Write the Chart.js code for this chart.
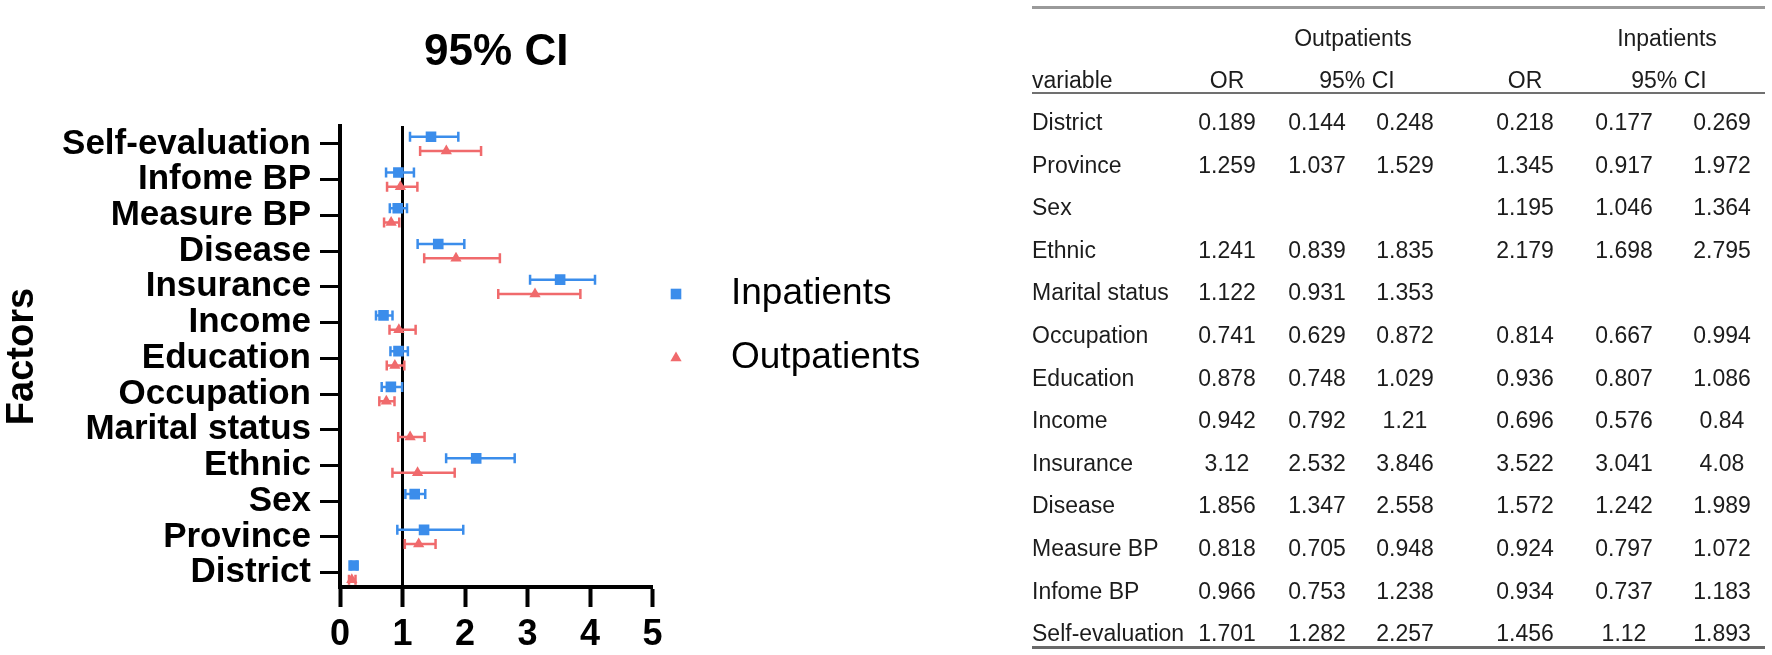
<!DOCTYPE html>
<html>
<head>
<meta charset="utf-8">
<script src="https://cdn.jsdelivr.net/npm/chart.js@4.4.1/dist/chart.umd.min.js"></script>
<style>
  html, body { margin: 0; padding: 0; background: #fff; }
  body { width: 1772px; height: 655px; position: relative; overflow: hidden; font-family: 'Liberation Sans', Arial, sans-serif; }
  #plotBox { position: absolute; left: 0; top: 0; width: 920px; height: 655px; }
  #orTable { position: absolute; left: 0; top: 0; width: 1772px; height: 655px; }
  .cell { position: absolute; font-size: 23px; line-height: 28px; height: 28px; color: #1c1c1c; white-space: nowrap; }
  .rule { position: absolute; left: 1032px; width: 733px; }
</style>
</head>
<body>
<div id="plotBox"><canvas id="forest"></canvas></div>
<div id="orTable"></div>
<script>
// rows from bottom (District) to top (Self-evaluation)
const factors = ['District', 'Province', 'Sex', 'Ethnic', 'Marital status', 'Occupation', 'Education',
    'Income', 'Insurance', 'Disease', 'Measure BP', 'Infome BP', 'Self-evaluation'];

const outOR   = [0.189, 1.259, null, 1.241, 1.122, 0.741, 0.878, 0.942, 3.12, 1.856, 0.818, 0.966, 1.701];
const outLow  = [0.144, 1.037, null, 0.839, 0.931, 0.629, 0.748, 0.792, 2.532, 1.347, 0.705, 0.753, 1.282];
const outHigh = [0.248, 1.529, null, 1.835, 1.353, 0.872, 1.029, 1.21, 3.846, 2.558, 0.948, 1.238, 2.257];

const inOR    = [0.218, 1.345, 1.195, 2.179, null, 0.814, 0.936, 0.696, 3.522, 1.572, 0.924, 0.934, 1.456];
const inLow   = [0.177, 0.917, 1.046, 1.698, null, 0.667, 0.807, 0.576, 3.041, 1.242, 0.797, 0.737, 1.12];
const inHigh  = [0.269, 1.972, 1.364, 2.795, null, 0.994, 1.086, 0.84, 4.08, 1.989, 1.072, 1.183, 1.893];

const xTicks = [0, 1, 2, 3, 4, 5];
const refOR = 1;

const FONT = "'Liberation Sans', Arial, sans-serif";
const BLUE = '#3b8deb';
const RED = '#f06a6c';

function buildPoints(or, lo, hi, shift) {
    const pts = [];
    factors.forEach((f, i) => {
        if (or[i] == null) return;
        pts.push({ x: or[i], y: i + shift, lo: lo[i], hi: hi[i] });
    });
    return pts;
}

// horizontal CI whiskers with end caps
const errorBars = {
    id: 'errorBars',
    beforeDatasetsDraw(chart) {
        const { ctx, scales: { x, y } } = chart;
        chart.data.datasets.forEach(ds => {
            ctx.save();
            ctx.strokeStyle = ds.borderColor;
            ctx.lineWidth = 2.5;
            ds.data.forEach(p => {
                const yp = y.getPixelForValue(p.y);
                const x0 = x.getPixelForValue(p.lo);
                const x1 = x.getPixelForValue(p.hi);
                ctx.beginPath();
                ctx.moveTo(x0, yp); ctx.lineTo(x1, yp);
                ctx.moveTo(x0, yp - 5); ctx.lineTo(x0, yp + 5);
                ctx.moveTo(x1, yp - 5); ctx.lineTo(x1, yp + 5);
                ctx.stroke();
            });
            ctx.restore();
        });
    }
};

// vertical line at OR = 1
const refLine = {
    id: 'refLine',
    beforeDatasetsDraw(chart) {
        const { ctx, chartArea, scales: { x } } = chart;
        const xp = x.getPixelForValue(refOR);
        ctx.save();
        ctx.strokeStyle = '#000';
        ctx.lineWidth = 3;
        ctx.beginPath();
        ctx.moveTo(xp, chartArea.top);
        ctx.lineTo(xp, chartArea.bottom);
        ctx.stroke();
        ctx.restore();
    }
};

// legend to the right of the plot
const sideLegend = {
    id: 'sideLegend',
    afterDraw(chart) {
        const ctx = chart.ctx;
        const rows = [294, 358];
        chart.data.datasets.forEach((ds, i) => {
            ctx.save();
            ctx.fillStyle = ds.backgroundColor;
            ctx.strokeStyle = ds.borderColor;
            Chart.helpers.drawPoint(ctx, { pointStyle: ds.pointStyle, radius: ds.pointRadius, borderWidth: 0, rotation: 0 }, 676, rows[i]);
            ctx.fillStyle = '#000';
            ctx.font = `37px ${FONT}`;
            ctx.textBaseline = 'middle';
            ctx.fillText(ds.label, 731, rows[i]);
            ctx.restore();
        });
    }
};

new Chart(document.getElementById('forest'), {
    type: 'scatter',
    data: {
        datasets: [
            {
                label: 'Inpatients',
                data: buildPoints(inOR, inLow, inHigh, 0.2),
                pointStyle: 'rect',
                pointRadius: 7.5,
                pointBorderWidth: 0,
                backgroundColor: BLUE,
                borderColor: BLUE
            },
            {
                label: 'Outpatients',
                data: buildPoints(outOR, outLow, outHigh, -0.2),
                pointStyle: 'triangle',
                pointRadius: 6.5,
                pointBorderWidth: 0,
                backgroundColor: RED,
                borderColor: RED
            }
        ]
    },
    options: {
        responsive: true,
        maintainAspectRatio: false,
        animation: false,
        layout: { padding: { top: 0, left: 0, right: 267.5, bottom: 0 } },
        scales: {
            x: {
                type: 'linear',
                min: 0,
                max: 5,
                afterBuildTicks: s => { s.ticks = xTicks.map(v => ({ value: v })); },
                afterFit: s => { s.height = 68; },
                ticks: {
                    autoSkip: false,
                    maxRotation: 0,
                    color: '#000',
                    padding: 6,
                    font: { family: FONT, size: 36, weight: 'bold' }
                },
                grid: { drawOnChartArea: false, drawTicks: true, tickLength: 20, tickWidth: 4, tickColor: '#000' },
                border: { display: true, color: '#000', width: 4 }
            },
            y: {
                type: 'linear',
                min: -0.4,
                max: 12.5,
                afterBuildTicks: s => { s.ticks = factors.map((f, i) => ({ value: i })); },
                afterFit: s => { s.width = 340; },
                ticks: {
                    autoSkip: false,
                    color: '#000',
                    padding: 9,
                    font: { family: FONT, size: 35, weight: 'bold' },
                    callback: v => factors[v]
                },
                grid: { drawOnChartArea: false, drawTicks: true, tickLength: 20, tickWidth: 3, tickColor: '#000' },
                border: { display: true, color: '#000', width: 4 },
                title: {
                    display: true,
                    text: 'Factors',
                    color: '#000',
                    padding: 0,
                    font: { family: FONT, size: 38, weight: 'bold' }
                }
            }
        },
        plugins: {
            legend: { display: false },
            tooltip: { enabled: false },
            title: {
                display: true,
                text: '95% CI',
                fullSize: false,
                color: '#000',
                font: { family: FONT, size: 44, weight: 'bold' },
                padding: { top: 26.6, bottom: 46.6 }
            }
        }
    },
    plugins: [refLine, errorBars, sideLegend]
});

// the odds-ratio table on the right
const tableBox = document.getElementById('orTable');
const colCenters = [1227, 1317, 1405, 1525, 1624, 1722];
const rowTop = 122;
const rowStep = 42.6;

function addCell(text, x, cy, centered) {
    const d = document.createElement('div');
    d.className = 'cell';
    d.textContent = text;
    if (centered) {
        d.style.left = (x - 70) + 'px';
        d.style.width = '140px';
        d.style.textAlign = 'center';
    } else {
        d.style.left = x + 'px';
    }
    d.style.top = (cy - 14) + 'px';
    tableBox.appendChild(d);
}

function addRule(y, h, color) {
    const r = document.createElement('div');
    r.className = 'rule';
    r.style.top = (y - h / 2) + 'px';
    r.style.height = h + 'px';
    r.style.background = color;
    tableBox.appendChild(r);
}

addRule(7, 3, '#9a9a9a');
addRule(93, 2.5, '#707070');
addRule(647, 3, '#6a6a6a');

addCell('Outpatients', 1353, 38, true);
addCell('Inpatients', 1667, 38, true);
addCell('variable', 1032, 80, false);
addCell('OR', colCenters[0], 80, true);
addCell('95% CI', 1357, 80, true);
addCell('OR', colCenters[3], 80, true);
addCell('95% CI', 1669, 80, true);

factors.forEach((f, i) => {
    const cy = rowTop + i * rowStep;
    addCell(f, 1032, cy, false);
    const vals = [outOR[i], outLow[i], outHigh[i], inOR[i], inLow[i], inHigh[i]];
    vals.forEach((v, j) => {
        if (v != null) addCell(String(v), colCenters[j], cy, true);
    });
});
</script>
</body>
</html>
